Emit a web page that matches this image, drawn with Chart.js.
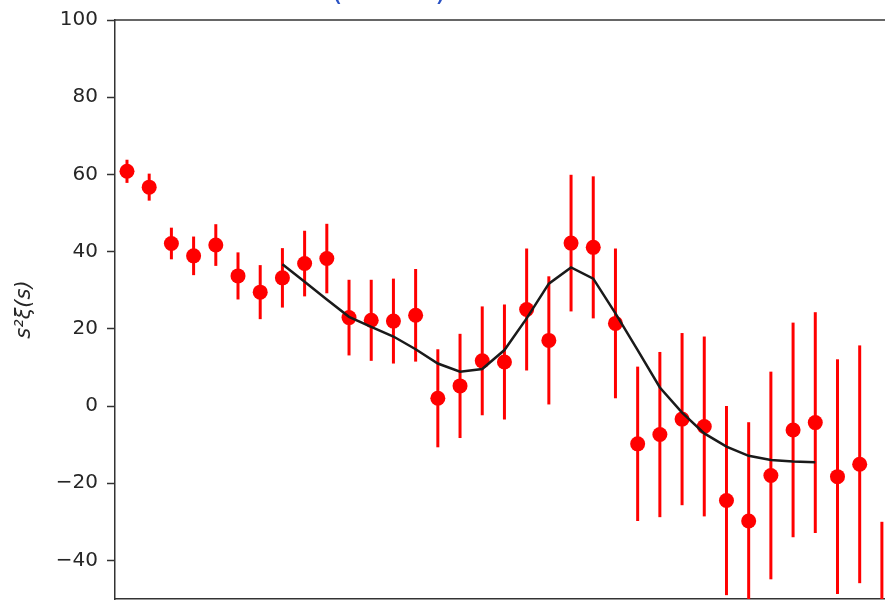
<!DOCTYPE html>
<html>
<head>
<meta charset="utf-8">
<script src="https://cdn.jsdelivr.net/npm/chart.js@4"></script>
<style>
    body { margin: 0; background: #fff; }
    canvas { display: block; }
</style>
</head>
<body>
<canvas id="xiChart" width="885" height="600"></canvas>
<script>
// Measured correlation function, one value per separation bin
const binIndex = [0, 1, 2, 3, 4, 5, 6, 7, 8, 9, 10, 11, 12, 13, 14, 15, 16, 17,
    18, 19, 20, 21, 22, 23, 24, 25, 26, 27, 28, 29, 30, 31, 32, 33, 34];
const xiValues = [60.8, 56.7, 42.1, 38.9, 41.7, 33.7, 29.5, 33.2, 36.9, 38.2, 22.9, 22.2,
    22.0, 23.5, 2.0, 5.2, 11.7, 11.4, 25.0, 17.0, 42.2, 41.1, 21.4, -9.8, -7.4, -3.4,
    -5.3, -24.5, -29.8, -18.0, -6.2, -4.3, -18.3, -15.1, -62.0];
const xiErrors = [3.0, 3.5, 4.1, 5.0, 5.4, 6.1, 7.0, 7.7, 8.5, 9.0, 9.8, 10.5,
    11.0, 12.0, 12.7, 13.5, 14.1, 14.9, 15.8, 16.6, 17.7, 18.4, 19.4, 20.0, 21.4, 22.3,
    23.3, 24.5, 25.6, 26.9, 27.8, 28.6, 30.4, 30.8, 32.0];

// Best-fit model curve
const modelIndex = [7, 8, 9, 10, 11, 12, 13, 14, 15, 16, 17, 18, 19, 20, 21, 22, 23,
    24, 25, 26, 27, 28, 29, 30, 31];
const modelValues = [36.7, 32.2, 27.6, 23.1, 20.5, 18.0, 14.7, 11.0, 8.9, 9.6, 14.5, 22.7,
    31.7, 35.9, 33.0, 24.0, 14.5, 4.8, -1.7, -7.1, -10.5, -12.9, -14.0, -14.4, -14.6];

const yTicks = [-40, -20, 0, 20, 40, 60, 80, 100];

const axisColor = '#333333';

// Draw vertical error bars behind the markers
const errorBarPlugin = {
    id: 'errorBars',
    beforeDatasetsDraw(chart) {
        const { ctx, chartArea, scales } = chart;
        ctx.save();
        ctx.beginPath();
        ctx.rect(chartArea.left, chartArea.top, chartArea.right - chartArea.left, chartArea.bottom - chartArea.top);
        ctx.clip();
        ctx.strokeStyle = '#ff0000';
        ctx.lineWidth = 3;
        binIndex.forEach((s, i) => {
            const x = scales.x.getPixelForValue(s);
            const yTop = scales.y.getPixelForValue(xiValues[i] + xiErrors[i]);
            const yBottom = scales.y.getPixelForValue(xiValues[i] - xiErrors[i]);
            ctx.beginPath();
            ctx.moveTo(x, yTop);
            ctx.lineTo(x, yBottom);
            ctx.stroke();
        });
        ctx.restore();
    }
};

// Top spine and the cut-off title above the axes
const framePlugin = {
    id: 'frame',
    afterDraw(chart) {
        const { ctx, chartArea } = chart;
        ctx.save();
        ctx.strokeStyle = axisColor;
        ctx.lineWidth = 1.5;
        ctx.beginPath();
        ctx.moveTo(chartArea.left, chartArea.top);
        ctx.lineTo(chartArea.right, chartArea.top);
        ctx.stroke();

        ctx.fillStyle = '#2a52c4';
        ctx.font = '30px "DejaVu Sans"';
        ctx.textBaseline = 'alphabetic';
        ctx.fillText('(', 331, 0);
        ctx.fillText(')', 435, 0);
        ctx.restore();
    }
};

// The axes must fill the canvas edge to edge, so drop the label padding
function noPadding(scale) {
    scale.paddingTop = 0;
    scale.paddingBottom = 0;
    scale.paddingLeft = 0;
    scale.paddingRight = 0;
}

const ctx = document.getElementById('xiChart').getContext('2d');
new Chart(ctx, {
    type: 'scatter',
    data: {
        datasets: [
            {
                type: 'line',
                label: 'Model',
                data: modelIndex.map((s, i) => ({ x: s, y: modelValues[i] })),
                borderColor: '#1a1a1a',
                borderWidth: 2.5,
                pointRadius: 0,
                tension: 0,
                fill: false,
                order: 0
            },
            {
                label: 'Data',
                data: binIndex.map((s, i) => ({ x: s, y: xiValues[i] })),
                backgroundColor: '#ff0000',
                borderColor: '#ff0000',
                pointRadius: 7.5,
                pointBorderWidth: 0,
                order: 1
            }
        ]
    },
    options: {
        responsive: false,
        animation: false,
        layout: {
            autoPadding: false,
            padding: { top: 20, bottom: 1, left: 0, right: 0 }
        },
        plugins: {
            legend: { display: false },
            tooltip: { enabled: false }
        },
        scales: {
            x: {
                type: 'linear',
                min: -0.54,
                max: 34.14,
                ticks: { display: false },
                grid: { display: false, drawTicks: false },
                border: { display: true, color: axisColor, width: 1.5 },
                afterFit(scale) {
                    scale.height = 0;
                    noPadding(scale);
                }
            },
            y: {
                min: -50,
                max: 100,
                afterBuildTicks(scale) {
                    scale.ticks = yTicks.map(v => ({ value: v }));
                },
                afterFit(scale) {
                    scale.width = 115;
                    noPadding(scale);
                },
                ticks: {
                    color: '#262626',
                    padding: 9,
                    font: { family: 'DejaVu Sans', size: 20 },
                    callback: v => String(v).replace('-', '\u2212')
                },
                grid: {
                    drawOnChartArea: false,
                    drawTicks: true,
                    tickLength: 8,
                    tickWidth: 1.5,
                    tickColor: axisColor
                },
                border: { display: true, color: axisColor, width: 1.5 },
                title: {
                    display: true,
                    text: 's\u00b2\u03be(s)',
                    color: '#262626',
                    padding: { top: 12, bottom: 0 },
                    font: { family: 'DejaVu Sans', size: 21, style: 'italic' }
                }
            }
        }
    },
    plugins: [errorBarPlugin, framePlugin]
});
</script>
</body>
</html>
